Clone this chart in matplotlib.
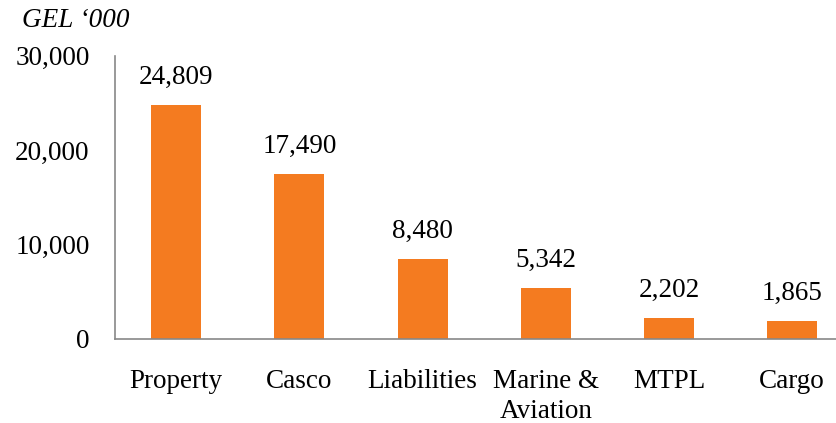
import numpy as np
import matplotlib
matplotlib.use('Agg')
from matplotlib import pyplot as plt

categories = ['Property', 'Casco', 'Liabilities', 'Marine &\nAviation', 'MTPL', 'Cargo']
values = [24809, 17490, 8480, 5342, 2202, 1865]
yticks = [0, 10000, 20000, 30000]

plt.rcParams['font.family'] = ['Liberation Serif', 'DejaVu Serif']

fig = plt.figure(figsize=(8.37, 4.23), dpi=100)
ax = fig.add_axes([0.137, 0.199, 0.883, 0.669])

x = np.arange(len(categories))
ax.bar(x, values, width=0.405, color='#F47B20')
for xi, v in zip(x, values):
    ax.annotate(f'{v:,}', (xi, v), xytext=(0, 11), textcoords='offset points',
                ha='center', va='bottom', fontsize=19.5)

ax.set_xlim(-0.5, len(categories) - 0.5)
ax.set_ylim(0, 30000)
ax.set_yticks(yticks)
ax.set_yticklabels([f'{t:,}' for t in yticks])
ax.set_xticks(x)
ax.set_xticklabels(categories, linespacing=1.25)
ax.tick_params(axis='both', length=0, labelsize=19.5)
ax.tick_params(axis='x', pad=22)
ax.tick_params(axis='y', pad=18)

for s in ['top', 'right']:
    ax.spines[s].set_visible(False)
for s in ['left', 'bottom']:
    ax.spines[s].set_color('#888888')
    ax.spines[s].set_linewidth(1.2)

fig.text(0.026, 0.952, 'GEL \u2018000', fontsize=19.5, style='italic', va='center', ha='left')

fig.savefig('out.png', dpi=100)
